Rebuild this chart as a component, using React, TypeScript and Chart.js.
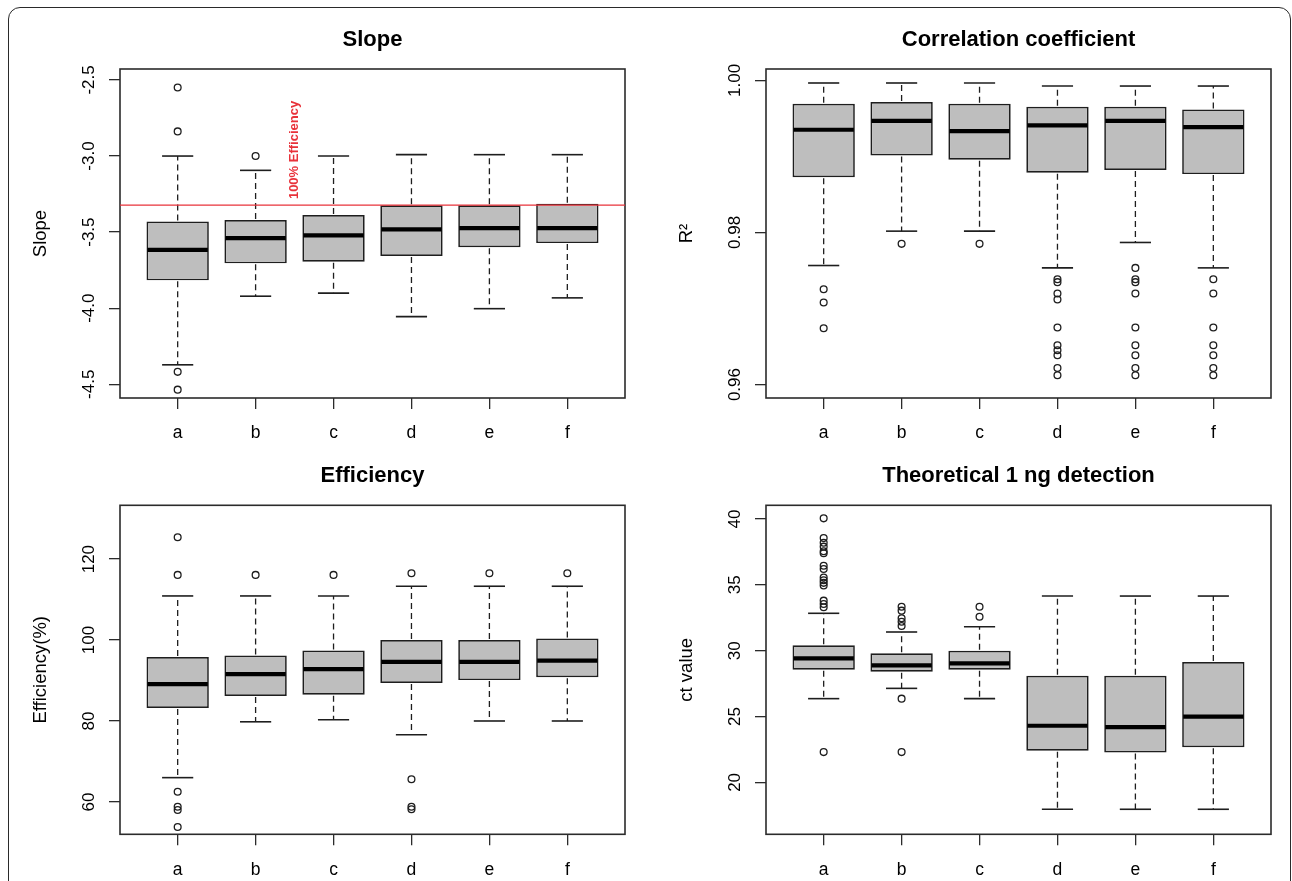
import React, { useEffect, useRef } from 'react';
import { Chart, registerables } from 'chart.js';

Chart.register(...registerables);

const FONT = '"Liberation Sans", Arial, Helvetica, sans-serif';

const CATEGORIES = ['a', 'b', 'c', 'd', 'e', 'f'];
const CAT_POS = [1, 2, 3, 4, 5, 6];
const X_MIN = 0.26;
const X_MAX = 6.74;

// ---- Slope ----
const SLOPE_LOW = [-4.372, -3.921, -3.901, -4.055, -4.003, -3.932];
const SLOPE_Q1 = [-3.817, -3.705, -3.694, -3.657, -3.599, -3.572];
const SLOPE_MED = [-3.616, -3.540, -3.521, -3.482, -3.474, -3.474];
const SLOPE_Q3 = [-3.430, -3.420, -3.388, -3.323, -3.323, -3.313];
const SLOPE_HIGH = [-3.000, -3.094, -3.000, -2.991, -2.991, -2.991];
const SLOPE_OUT = [[-2.55, -2.838, -4.418, -4.535], [-3.0], [], [], [], []];
const SLOPE_TICKS = [-2.5, -3.0, -3.5, -4.0, -4.5];
const SLOPE_TICK_LABELS = ['-2.5', '-3.0', '-3.5', '-4.0', '-4.5'];
const SLOPE_REF = -3.3219;

// ---- Correlation coefficient ----
const R2_LOW = [0.97565, 0.98017, 0.98017, 0.97534, 0.97868, 0.97534];
const R2_Q1 = [0.98727, 0.99013, 0.98955, 0.98784, 0.9882, 0.98767];
const R2_MED = [0.9935, 0.99468, 0.99333, 0.99408, 0.99468, 0.99385];
const R2_Q3 = [0.99692, 0.99714, 0.99692, 0.99653, 0.99653, 0.99618];
const R2_HIGH = [0.99965, 0.99965, 0.99965, 0.99925, 0.99925, 0.99925];
const R2_OUT = [
  [0.97253, 0.97078, 0.9674],
  [0.9785],
  [0.9785],
  [0.97385, 0.97346, 0.97197, 0.97118, 0.9675, 0.96517, 0.96451, 0.96385, 0.96218, 0.96122],
  [0.97534, 0.97385, 0.97346, 0.97197, 0.9675, 0.96517, 0.96385, 0.96218, 0.96122],
  [0.97385, 0.97197, 0.9675, 0.96517, 0.96385, 0.96218, 0.96122],
];
const R2_TICKS = [1.0, 0.98, 0.96];
const R2_TICK_LABELS = ['1.00', '0.98', '0.96'];

// ---- Efficiency ----
const EFF_LOW = [66.0, 79.8, 80.3, 76.6, 80.0, 80.0];
const EFF_Q1 = [83.2, 86.2, 86.5, 89.4, 90.1, 90.8];
const EFF_MED = [89.1, 91.6, 92.8, 94.6, 94.6, 94.9];
const EFF_Q3 = [95.8, 96.2, 97.4, 100.0, 100.0, 100.4];
const EFF_HIGH = [110.9, 110.9, 110.9, 113.3, 113.3, 113.3];
const EFF_OUT = [
  [125.4, 116.1, 62.5, 58.8, 58.0, 53.8],
  [116.1],
  [116.1],
  [116.5, 65.6, 58.8, 58.2],
  [116.5],
  [116.5],
];
const EFF_TICKS = [60, 80, 100, 120];
const EFF_TICK_LABELS = ['60', '80', '100', '120'];

// ---- Theoretical 1 ng detection ----
const CT_LOW = [26.36, 27.14, 26.36, 17.96, 17.96, 17.96];
const CT_Q1 = [28.56, 28.41, 28.56, 22.4, 22.28, 22.67];
const CT_MED = [29.42, 28.89, 29.04, 24.3, 24.2, 25.0];
const CT_Q3 = [30.41, 29.8, 30.0, 28.1, 28.1, 29.14];
const CT_HIGH = [32.84, 31.42, 31.82, 34.15, 34.15, 34.15];
const CT_OUT = [
  [40.05, 38.55, 38.2, 37.9, 37.55, 37.4, 36.45, 36.2, 35.55, 35.35, 35.15, 34.95, 33.8, 33.55, 33.3, 22.3],
  [33.34, 33.04, 32.46, 32.2, 31.87, 26.36, 22.3],
  [33.34, 32.58],
  [],
  [],
  [],
];
const CT_TICKS = [20, 25, 30, 35, 40];
const CT_TICK_LABELS = ['20', '25', '30', '35', '40'];

type Spec = {
  title: string;
  yTitle: string;
  low: number[];
  q1: number[];
  med: number[];
  q3: number[];
  high: number[];
  out: number[][];
  yMin: number;
  yMax: number;
  yTicks: number[];
  yTickLabels: string[];
  ref?: { value: number; label: string; labelX: number; labelY: number };
};

const PANELS: { spec: Spec; left: number; top: number; height: number; plotTop: number; plotBottom: number }[] = [
  {
    spec: {
      title: 'Slope', yTitle: 'Slope',
      low: SLOPE_LOW, q1: SLOPE_Q1, med: SLOPE_MED, q3: SLOPE_Q3, high: SLOPE_HIGH, out: SLOPE_OUT,
      yMin: -4.59, yMax: -2.428, yTicks: SLOPE_TICKS, yTickLabels: SLOPE_TICK_LABELS,
      ref: { value: SLOPE_REF, label: '100% Efficiency', labelX: 2.5, labelY: -2.96 },
    },
    left: 0, top: 0, height: 440, plotTop: 69, plotBottom: 398,
  },
  {
    spec: {
      title: 'Correlation coefficient', yTitle: 'R²',
      low: R2_LOW, q1: R2_Q1, med: R2_MED, q3: R2_Q3, high: R2_HIGH, out: R2_OUT,
      yMin: 0.95823, yMax: 1.00149, yTicks: R2_TICKS, yTickLabels: R2_TICK_LABELS,
    },
    left: 646, top: 0, height: 440, plotTop: 69, plotBottom: 398,
  },
  {
    spec: {
      title: 'Efficiency', yTitle: 'Efficiency(%)',
      low: EFF_LOW, q1: EFF_Q1, med: EFF_MED, q3: EFF_Q3, high: EFF_HIGH, out: EFF_OUT,
      yMin: 52.0, yMax: 133.3, yTicks: EFF_TICKS, yTickLabels: EFF_TICK_LABELS,
    },
    left: 0, top: 440, height: 441, plotTop: 65.3, plotBottom: 394.3,
  },
  {
    spec: {
      title: 'Theoretical 1 ng detection', yTitle: 'ct value',
      low: CT_LOW, q1: CT_Q1, med: CT_MED, q3: CT_Q3, high: CT_HIGH, out: CT_OUT,
      yMin: 16.06, yMax: 41.04, yTicks: CT_TICKS, yTickLabels: CT_TICK_LABELS,
    },
    left: 646, top: 440, height: 441, plotTop: 65.3, plotBottom: 394.3,
  },
];

const PANEL_W = 646;
const PLOT_LEFT = 120;
const PLOT_RIGHT = 625;
const INK = '#1e1e1e';

function BoxPanel({ spec, left, top, height, plotTop, plotBottom }: {
  spec: Spec; left: number; top: number; height: number; plotTop: number; plotBottom: number;
}) {
  const ref = useRef<HTMLCanvasElement>(null);

  useEffect(() => {
    const canvas = ref.current as HTMLCanvasElement;
    const boxData = spec.q1.map((q, i) => ({ x: CAT_POS[i], y: [q, spec.q3[i]] }));
    const outData = spec.out.flatMap((arr, i) => arr.map((v) => ({ x: CAT_POS[i], y: v })));

    const line = (ctx: CanvasRenderingContext2D, x1: number, y1: number, x2: number, y2: number) => {
      ctx.beginPath();
      ctx.moveTo(x1, y1);
      ctx.lineTo(x2, y2);
      ctx.stroke();
    };

    const plugin = {
      id: 'rboxplot',
      afterDatasetsDraw(chart: any) {
        const { ctx, chartArea: a } = chart;
        const xs = chart.scales.x;
        const ys = chart.scales.y;
        const u = xs.getPixelForValue(2) - xs.getPixelForValue(1);
        ctx.save();
        ctx.strokeStyle = INK;
        for (let i = 0; i < spec.med.length; i++) {
          const px = xs.getPixelForValue(CAT_POS[i]);
          const yLo = ys.getPixelForValue(spec.low[i]);
          const yQ1 = ys.getPixelForValue(spec.q1[i]);
          const yMed = ys.getPixelForValue(spec.med[i]);
          const yQ3 = ys.getPixelForValue(spec.q3[i]);
          const yHi = ys.getPixelForValue(spec.high[i]);
          ctx.lineWidth = 1.3;
          ctx.setLineDash([6, 4]);
          line(ctx, px, yQ3 - 1, px, yHi);
          line(ctx, px, yQ1 + 1, px, yLo);
          ctx.setLineDash([]);
          ctx.lineWidth = 1.6;
          line(ctx, px - 0.2 * u, yHi, px + 0.2 * u, yHi);
          line(ctx, px - 0.2 * u, yLo, px + 0.2 * u, yLo);
          ctx.lineWidth = 4.2;
          ctx.strokeStyle = '#000';
          line(ctx, px - 0.4 * u + 1, yMed, px + 0.4 * u - 1, yMed);
          ctx.strokeStyle = INK;
        }
        // frame
        ctx.lineWidth = 1.6;
        ctx.strokeStyle = '#2b2b2b';
        ctx.strokeRect(a.left, a.top, a.right - a.left, a.bottom - a.top);

        // reference line
        if (spec.ref) {
          const ry = ys.getPixelForValue(spec.ref.value);
          ctx.strokeStyle = '#e8323a';
          ctx.lineWidth = 1.3;
          line(ctx, a.left, ry, a.right, ry);
          ctx.save();
          ctx.translate(xs.getPixelForValue(spec.ref.labelX), ys.getPixelForValue(spec.ref.labelY));
          ctx.rotate(-Math.PI / 2);
          ctx.fillStyle = '#e8323a';
          ctx.font = `bold 13px ${FONT}`;
          ctx.textAlign = 'center';
          ctx.textBaseline = 'middle';
          ctx.fillText(spec.ref.label, 0, 0);
          ctx.restore();
        }

        // y tick labels (rotated, as in R)
        ctx.fillStyle = '#000';
        ctx.font = `17px ${FONT}`;
        ctx.textAlign = 'center';
        ctx.textBaseline = 'middle';
        spec.yTicks.forEach((v, i) => {
          ctx.save();
          ctx.translate(89, ys.getPixelForValue(v));
          ctx.rotate(-Math.PI / 2);
          ctx.fillText(spec.yTickLabels[i], 0, 0);
          ctx.restore();
        });

        // y axis title
        ctx.save();
        ctx.translate(41, (a.top + a.bottom) / 2);
        ctx.rotate(-Math.PI / 2);
        ctx.font = `18.5px ${FONT}`;
        ctx.fillText(spec.yTitle, 0, 0);
        ctx.restore();

        // main title
        ctx.font = `bold 22px ${FONT}`;
        ctx.fillText(spec.title, (a.left + a.right) / 2, a.top - 29.5);
        ctx.restore();
      },
    };

    const chart = new Chart(canvas, {
      type: 'bar',
      data: {
        datasets: [
          {
            type: 'bar',
            data: boxData as any,
            backgroundColor: '#bebebe',
            borderColor: INK,
            borderWidth: 1.7,
            borderSkipped: false,
            barPercentage: 1,
            categoryPercentage: 0.8,
            order: 2,
          } as any,
          {
            type: 'scatter',
            data: outData,
            pointStyle: 'circle',
            pointRadius: 3.4,
            pointBorderWidth: 1.3,
            pointBorderColor: INK,
            pointBackgroundColor: 'rgba(0,0,0,0)',
            showLine: false,
            order: 1,
          } as any,
        ],
      },
      options: {
        responsive: false,
        animation: false,
        events: [],
        layout: { padding: { left: 0, top: plotTop, right: PANEL_W - PLOT_RIGHT, bottom: 0 } },
        plugins: { legend: { display: false }, tooltip: { enabled: false }, title: { display: false } },
        scales: {
          x: {
            type: 'linear',
            min: X_MIN,
            max: X_MAX,
            offset: false,
            afterBuildTicks: (s: any) => { s.ticks = CAT_POS.map((v) => ({ value: v })); },
            afterFit: (s: any) => { s.height = height - plotBottom; },
            ticks: {
              autoSkip: false,
              minRotation: 0,
              maxRotation: 0,
              padding: 14,
              color: '#000',
              font: { family: FONT, size: 17.5 },
              callback: (v: any) => CATEGORIES[CAT_POS.indexOf(Number(v))] ?? '',
            },
            grid: { display: true, drawOnChartArea: false, drawTicks: true, tickLength: 11, color: '#2b2b2b', lineWidth: 1.3, offset: false },
            border: { display: false },
          },
          y: {
            type: 'linear',
            min: spec.yMin,
            max: spec.yMax,
            afterBuildTicks: (s: any) => { s.ticks = spec.yTicks.map((v) => ({ value: v })); },
            afterFit: (s: any) => { s.width = PLOT_LEFT; },
            ticks: { display: false },
            grid: { display: true, drawOnChartArea: false, drawTicks: true, tickLength: 11, color: '#2b2b2b', lineWidth: 1.3 },
            border: { display: false },
          },
        },
      } as any,
      plugins: [plugin],
    });
    return () => chart.destroy();
  }, [spec, height, plotTop, plotBottom]);

  return (
    <canvas
      ref={ref}
      width={PANEL_W}
      height={height}
      style={{ position: 'absolute', left, top, width: PANEL_W, height, display: 'block' }}
    />
  );
}

export default function App() {
  return (
    <div style={{ position: 'absolute', left: 0, top: 0, width: 1292, height: 881, overflow: 'hidden', background: '#fff' }}>
      <div
        style={{
          position: 'absolute', left: 8, top: 7, width: 1283, height: 1000, boxSizing: 'border-box',
          border: '1.5px solid #2a2a2a', borderRadius: 12,
        }}
      />
      {PANELS.map((p, i) => (
        <BoxPanel key={i} spec={p.spec} left={p.left} top={p.top} height={p.height} plotTop={p.plotTop} plotBottom={p.plotBottom} />
      ))}
    </div>
  );
}
